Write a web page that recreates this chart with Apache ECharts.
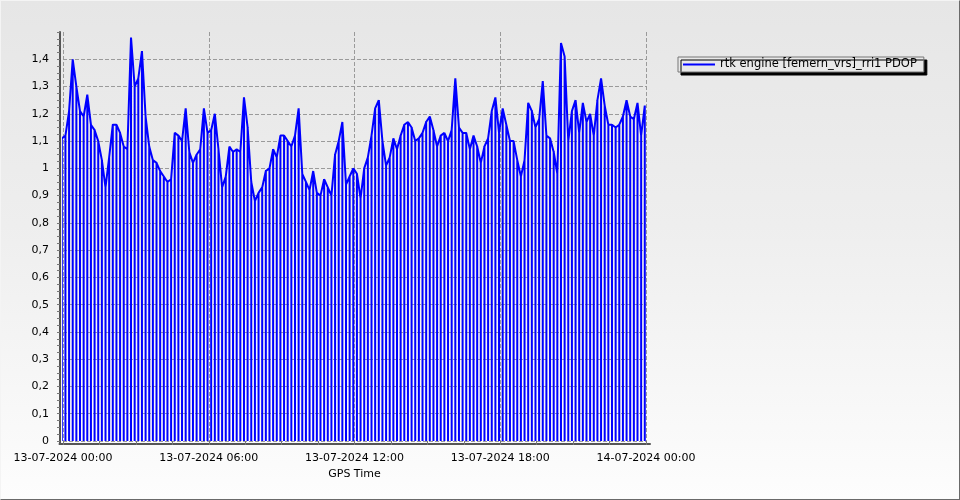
<!DOCTYPE html>
<html>
<head>
<meta charset="utf-8">
<script src="https://cdn.jsdelivr.net/npm/echarts@6/dist/echarts.min.js"></script>
<style>
  html, body { margin: 0; padding: 0; }
  #wrap { position: relative; width: 960px; height: 500px; background: linear-gradient(to bottom, #e6e6e6 0%, #eeeeee 45%, #fdfdfd 100%); }
  #chart { position: absolute; left: 0; top: 0; width: 960px; height: 500px; }
  #frame { position: absolute; left: 0; top: 0; width: 960px; height: 500px; box-sizing: border-box;
           border-top: 1px solid #f4f4f4; border-left: 1px solid #f4f4f4;
           border-right: 1px solid #6a6a6a; border-bottom: 1px solid #6a6a6a; pointer-events: none; }
</style>
</head>
<body>
<div id="wrap"><div id="chart"></div><div id="frame"></div></div>
<script>
// ---- data (PDOP, one value per epoch block) ----
const seriesName = 'rtk engine [femern_vrs]_rri1 PDOP';
const startUTC = Date.UTC(2024, 6, 13, 0, 0, 0);   // 13-07-2024 00:00
const endUTC = Date.UTC(2024, 6, 14, 0, 0, 0);     // 14-07-2024 00:00
const firstEpochMin = -3;       // first epoch relative to start (minutes)
const epochStepMin = 9;         // spacing of epochs (minutes)
const dropValue = 0;            // PDOP reported as 0 between epochs

const pdop00to06 = [1.11,1.12,1.21,1.40,1.30,1.21,1.19,1.27,1.16,1.14,
                    1.10,1.03,0.93,1.04,1.16,1.16,1.13,1.08,1.07,1.48,
                    1.30,1.33,1.43,1.19,1.08,1.03,1.02,0.99,0.97,0.95,
                    0.96,1.13,1.12,1.10,1.22,1.06,1.02,1.05,1.07,1.22];
const pdop06to12 = [1.13,1.14,1.20,1.07,0.93,0.97,1.08,1.06,1.07,1.06,
                    1.26,1.15,0.95,0.88,0.91,0.93,0.99,1.00,1.07,1.04,
                    1.12,1.12,1.10,1.08,1.12,1.22,0.98,0.95,0.92,0.99,
                    0.91,0.90,0.96,0.93,0.90,1.05,1.10,1.17,0.94,0.97];
const pdop12to18 = [1.00,0.98,0.89,1.00,1.04,1.12,1.22,1.25,1.10,1.01,
                    1.04,1.11,1.07,1.12,1.16,1.17,1.15,1.10,1.11,1.13,
                    1.17,1.19,1.14,1.08,1.12,1.13,1.10,1.14,1.33,1.15,
                    1.13,1.13,1.07,1.12,1.08,1.02,1.08,1.11,1.21,1.26];
const pdop18to24 = [1.13,1.22,1.16,1.10,1.10,1.03,0.97,1.03,1.24,1.21,
                    1.15,1.18,1.32,1.12,1.11,1.06,0.98,1.46,1.41,1.10,
                    1.21,1.25,1.13,1.24,1.17,1.20,1.12,1.25,1.33,1.23,
                    1.16,1.16,1.15,1.16,1.19,1.25,1.19,1.18,1.24,1.12,1.23];

const yTickValues = [0,0.1,0.2,0.3,0.4,0.5,0.6,0.7,0.8,0.9,1,1.1,1.2,1.3,1.4];
const xTickHours = 6;

// ---- build ----
const pdop = pdop00to06.concat(pdop06to12, pdop12to18, pdop18to24);
const lineData = [];
pdop.forEach(function (v, i) {
  const t = startUTC + (firstEpochMin + i * epochStepMin) * 60000;
  lineData.push([t, v]);
  lineData.push([t, dropValue]);
  lineData.push([t, v]);
});

function pad(n) { return (n < 10 ? '0' : '') + n; }
function fmtTime(v) {
  const d = new Date(v);
  return pad(d.getUTCDate()) + '-' + pad(d.getUTCMonth() + 1) + '-' + d.getUTCFullYear() +
         ' ' + pad(d.getUTCHours()) + ':' + pad(d.getUTCMinutes());
}
function fmtY(v) {
  return String(Number(v.toFixed(1))).replace('.', ',');
}

const FONT = 'DejaVu Sans';
const gridDash = { color: '#9a9a9a', width: 1, type: [4, 2] };
const yMax = 1.5;
const yGridMax = yTickValues[yTickValues.length - 1];
const plotTop = 32, plotBottom = 59;
const plotH = 500 - plotTop - plotBottom;
const gridLinesTop = 500 - plotBottom - plotH * (yGridMax / yMax);

const chart = echarts.init(document.getElementById('chart'), null, { renderer: 'canvas' });
chart.setOption({
  animation: false,
  backgroundColor: 'transparent',
  textStyle: { fontFamily: FONT },
  grid: [
    { left: 63, right: 314, top: plotTop, bottom: plotBottom },
    { left: 63, right: 314, top: gridLinesTop, bottom: plotBottom },
    { left: 59.5, right: 310, top: plotTop, bottom: plotBottom - 3 }
  ],
  xAxis: [
    {
      type: 'value', gridIndex: 0, min: startUTC, max: endUTC,
      interval: xTickHours * 3600000, offset: 3,
      name: 'GPS Time', nameLocation: 'middle', nameGap: 22,
      nameTextStyle: { fontFamily: FONT, fontSize: 11, color: '#000' },
      axisLine: { show: false },
      axisTick: { show: true, length: 4, lineStyle: { color: '#777' } },
      minorTick: { show: true, splitNumber: 4, length: 4, lineStyle: { color: '#777' } },
      axisLabel: { margin: 9, fontFamily: FONT, fontSize: 11, color: '#000', formatter: fmtTime },
      splitLine: { show: true, lineStyle: gridDash }
    },
    { type: 'value', gridIndex: 1, min: 0, max: 1, show: false },
    {
      type: 'value', gridIndex: 2, min: 0, max: 1,
      axisLine: { show: true, onZero: false, lineStyle: { color: '#555', width: 2 } },
      axisTick: { show: false }, axisLabel: { show: false }, splitLine: { show: false }
    }
  ],
  yAxis: [
    {
      type: 'value', gridIndex: 0, min: 0, max: yMax, interval: 0.1, offset: 3,
      axisLine: { show: false },
      axisTick: { show: true, length: 3, lineStyle: { color: '#777' } },
      minorTick: { show: true, splitNumber: 4, length: 3, lineStyle: { color: '#777' } },
      axisLabel: { margin: 11, fontFamily: FONT, fontSize: 11, color: '#000', formatter: fmtY, showMaxLabel: false },
      splitLine: { show: false }
    },
    {
      type: 'value', gridIndex: 1, min: 0, max: yGridMax, interval: 0.1,
      axisLine: { show: false }, axisTick: { show: false }, axisLabel: { show: false },
      splitLine: { show: true, lineStyle: gridDash }
    },
    {
      type: 'value', gridIndex: 2, min: 0, max: 1,
      axisLine: { show: true, onZero: false, lineStyle: { color: '#555', width: 2 } },
      axisTick: { show: false }, axisLabel: { show: false }, splitLine: { show: false }
    }
  ],
  legend: {
    left: 678, top: 57,
    orient: 'vertical',
    icon: 'path://M0,0h0.01v0.01h-0.01z M0,5.5h32v2h-32z M31.99,13h0.01v0.01h-0.01z',
    itemWidth: 32, itemHeight: 13,
    padding: [1, 7, 1, 5],
    backgroundColor: '#e9e9e9',
    borderColor: '#777', borderWidth: 1, borderRadius: 0,
    shadowColor: '#000', shadowBlur: 0, shadowOffsetX: 3, shadowOffsetY: 3,
    textStyle: { fontFamily: FONT, fontSize: 11.5, color: '#000' },
    data: [seriesName]
  },
  series: [{
    name: seriesName,
    type: 'line',
    xAxisIndex: 0, yAxisIndex: 0,
    data: lineData,
    showSymbol: false,
    symbol: 'none',
    clip: false,
    color: '#0000ff',
    lineStyle: { color: '#0000ff', width: 2 }
  }]
});
</script>
</body>
</html>
